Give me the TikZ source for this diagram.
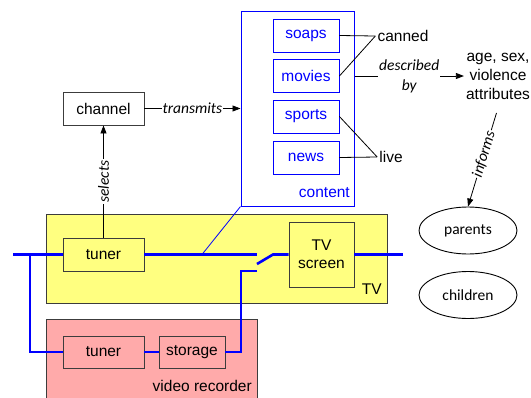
\documentclass[tikz,border=0pt]{standalone}
\usepackage{fontspec}
\setmainfont{Liberation Sans}
\newfontfamily\labelfont{Carlito}
\usetikzlibrary{arrows.meta,shapes.geometric}
\definecolor{tvyellow}{RGB}{255,255,128}
\definecolor{vcrpink}{RGB}{255,170,170}
\definecolor{edgegray}{RGB}{60,60,60}
\tikzset{
  region/.style={draw=edgegray, line width=0.9pt, inner sep=0pt},
  unit/.style={draw=edgegray, line width=0.9pt, inner sep=0pt, minimum height=33pt},
  genre/.style={draw=blue, text=blue, line width=0.9pt, inner sep=0pt,
    minimum width=66pt, minimum height=33pt},
  signal/.style={draw=blue, line width=2.6pt},
  rel/.style={draw=black, line width=0.8pt},
  arr/.style={rel, -{Triangle[length=8pt,width=6pt]}},
  lab/.style={font=\labelfont\itshape\fontsize{15.5}{20}\selectfont,
    fill=white, inner sep=1pt},
  person/.style={ellipse, draw=black, line width=0.9pt, minimum width=98pt,
    minimum height=47pt, inner sep=0pt,
    font=\labelfont\fontsize{15.5}{18}\selectfont},
}
\begin{document}
\begin{tikzpicture}[x=1pt, y=-1pt, font=\fontsize{15.5}{19}\selectfont]
\useasboundingbox (0,0) rectangle (531,397);

% housings
\node[region, fill=tvyellow, minimum width=341pt, minimum height=89pt] (tv) at (216.5,258.5) {};
\node[region, fill=vcrpink, minimum width=211pt, minimum height=91pt] (vcr) at (151.5,364.5) {};
\node[anchor=base east, inner sep=0pt] (tvname) at (382,294) {TV};
\node[anchor=base east, inner sep=0pt] (vcrname) at (252,391) {video recorder};

% content and its genres
\node[draw=blue, line width=1pt, inner sep=0pt, minimum width=113pt, minimum height=195pt] (content) at (297.5,108.5) {};
\node[anchor=base east, inner sep=0pt, text=blue] (contentname) at (350,197) {content};
\node[genre] (soaps) at (306,35.5) {soaps};
\node[genre] (movies) at (306,76) {movies};
\node[genre] (sports) at (306,116.5) {sports};
\node[genre] (news) at (306,157.5) {news};
\node[inner sep=2pt] (canned) at (403,36) {canned};
\node[inner sep=2pt] (live) at (391,157) {live};

% concepts
\node[unit, minimum width=81pt] (channel) at (103.5,108.5) {channel};
\node[align=center, inner sep=2pt] (attr) at (498,76) {age, sex,\\violence\\attributes};
\node[person] (parents) at (468,230.5) {parents};
\node[person] (children) at (468,295) {children};

% devices
\node[unit, minimum width=81pt] (tuner1) at (103.5,254.5) {tuner};
\node[unit, minimum width=65pt, minimum height=65pt, align=center,
  font=\fontsize{15.5}{18}\selectfont] (screen) at (321.5,254.5) {TV\\screen};
\node[unit, minimum width=81pt, minimum height=32pt] (tuner2) at (103.5,352) {tuner};
\node[unit, minimum width=66pt, minimum height=32pt] (storage) at (192,352) {storage};

% relations
\draw[rel] (soaps.east) -- (canned.west);
\draw[rel] (movies.east) -- (canned.west);
\draw[rel] (sports.east) -- (live.west);
\draw[rel] (news.east) -- (live.west);
\draw[arr] (channel) -- node[lab]{transmits} (content);
\draw[arr] (tuner1) -- node[lab, sloped]{selects} (channel);
\draw[arr] (content.east |- attr.west) -- node[lab, align=center]{described\\by} (attr.west);
\draw[arr, shorten <=12pt] ([xshift=2pt]attr.south) -- node[lab, sloped]{informs} (parents.north);

% signal path
\coordinate (feed) at (13,254.5);
\coordinate (split) at (30,254.5);
\coordinate (tap) at (202,254.5);
\coordinate (contactA) at (257,254.5);
\coordinate (bladeL) at (257,264);
\coordinate (bladeR) at (273,254.5);
\coordinate (contactB) at (257,271);
\coordinate (riser) at (241,271);
\coordinate (out) at (403,254.5);
\draw[signal] (feed) -- (tuner1.west);
\draw[signal] (split) |- (tuner2.west);
\draw[signal] (tuner1.east) -- (contactA);
\draw[signal] (bladeL) -- (bladeR) -- (screen.west);
\draw[signal] (contactB) -- (riser) |- (storage.east);
\draw[signal] (tuner2.east) -- (storage.west);
\draw[signal] (screen.east) -- (out);
\draw[draw=blue, line width=0.8pt] (content.south west) -- (tap);
\end{tikzpicture}
\end{document}
